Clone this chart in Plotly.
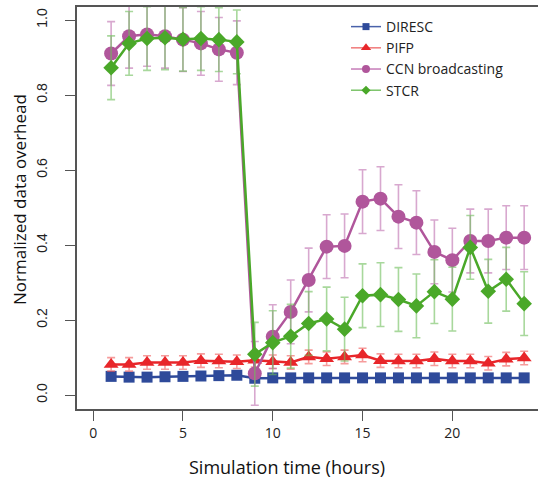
import plotly.graph_objects as go

hours = list(range(1, 25))

diresc = [0.050, 0.048, 0.048, 0.049, 0.050, 0.051, 0.052, 0.053, 0.045, 0.046, 0.046, 0.046,
          0.046, 0.046, 0.046, 0.046, 0.046, 0.046, 0.046, 0.046, 0.046, 0.046, 0.046, 0.046]
diresc_err = [0.005] * 24

pifp = [0.082, 0.082, 0.087, 0.087, 0.087, 0.092, 0.091, 0.089, 0.093, 0.089, 0.087, 0.102,
        0.097, 0.102, 0.107, 0.092, 0.091, 0.091, 0.097, 0.091, 0.091, 0.085, 0.096, 0.099]
pifp_err = [0.018] * 24

ccn = [0.911, 0.957, 0.962, 0.957, 0.948, 0.938, 0.922, 0.913, 0.058, 0.156, 0.222, 0.307,
       0.396, 0.398, 0.516, 0.524, 0.476, 0.460, 0.382, 0.360, 0.411, 0.411, 0.420, 0.420]
ccn_err = [0.085] * 24

stcr = [0.873, 0.938, 0.951, 0.953, 0.949, 0.951, 0.948, 0.942, 0.109, 0.140, 0.157, 0.191,
        0.203, 0.176, 0.265, 0.268, 0.255, 0.238, 0.276, 0.256, 0.394, 0.277, 0.309, 0.244]
stcr_err = [0.085] * 24

x_ticks = [0, 5, 10, 15, 20]
y_ticks = [0.0, 0.2, 0.4, 0.6, 0.8, 1.0]

# name, values, errors, line colour, error-bar colour, legend line colour, symbol, size, legend size
series = [
    ("DIRESC", diresc, diresc_err, "#2e4a9a", "rgba(70,100,180,0.6)", "#4a62aa", "square", 11, 7),
    ("PIFP", pifp, pifp_err, "#e8262a", "rgba(240,90,90,0.6)", "#f07a7a", "triangle-up", 13, 9),
    ("CCN broadcasting", ccn, ccn_err, "#b0569b", "rgba(190,110,175,0.6)", "#c67cb8", "circle", 14, 8),
    ("STCR", stcr, stcr_err, "#4aa829", "rgba(110,190,90,0.6)", "#7cc46a", "diamond", 12, 7),
]

fig = go.Figure()
for name, vals, errs, col, ecol, lcol, sym, size, lsize in series:
    fig.add_trace(go.Scatter(
        x=hours, y=vals, name=name, mode="lines+markers", showlegend=False,
        line=dict(color=col, width=2.5),
        marker=dict(symbol=sym, size=size, color=col),
        error_y=dict(type="data", array=errs, visible=True, color=ecol, thickness=1.6, width=4),
    ))
    # legend key with a thinner line and smaller symbol
    fig.add_trace(go.Scatter(
        x=[None], y=[None], name=name, mode="lines+markers",
        line=dict(color=lcol, width=1.5),
        marker=dict(symbol=sym, size=lsize, color=col),
    ))

axis_col = "#555555"
fig.update_layout(
    width=538, height=480,
    margin=dict(l=77, r=0, t=7, b=71),
    plot_bgcolor="white", paper_bgcolor="white",
    showlegend=True,
    legend=dict(x=0.5835, y=0.99, xanchor="left", yanchor="top",
                font=dict(family="Open Sans", size=14, color="#222"),
                bgcolor="rgba(0,0,0,0)", itemsizing="trace", tracegroupgap=0),
    xaxis=dict(range=[-0.9, 24.77], tickvals=x_ticks, ticks="outside", ticklen=10,
               tickcolor=axis_col, showline=True, linecolor=axis_col, linewidth=1.5,
               mirror=True, showgrid=False, zeroline=False,
               tickfont=dict(family="Open Sans", size=14, color="#222")),
    yaxis=dict(range=[-0.037, 1.035], tickvals=y_ticks, ticktext=[f"{v:.1f}" for v in y_ticks],
               ticks="outside", ticklen=10, tickcolor=axis_col, showline=True,
               linecolor=axis_col, linewidth=1.5, showgrid=False, zeroline=False,
               tickangle=-90, ticklabelstandoff=13,
               tickfont=dict(family="Liberation Sans", size=14, color="#222")),
    annotations=[
        dict(text="Simulation time (hours)", x=10.8, y=0, xref="x", yref="paper",
             yanchor="middle", xanchor="center",
             yshift=-58, showarrow=False, font=dict(family="Open Sans", size=18, color="#111")),
        dict(text="Normalized data overhead", x=0, y=0.52, xref="paper", yref="paper",
             xanchor="center", yanchor="middle",
             xshift=-57, textangle=-90, showarrow=False,
             font=dict(family="Open Sans", size=17, color="#111")),
    ],
)

fig.write_html("out.html")
